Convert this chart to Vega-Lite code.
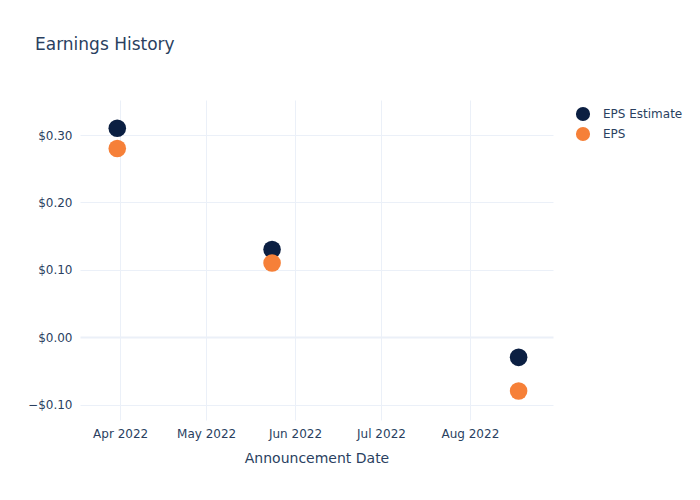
{
  "$schema": "https://vega.github.io/schema/vega-lite/v6.json",
  "autosize": {"type": "none"},
  "width": 473,
  "height": 320,
  "padding": {"left": 80, "top": 100, "right": 147, "bottom": 80},
  "background": "white",
  "title": {
    "text": "Earnings History",
    "anchor": "start",
    "frame": "group",
    "dx": -45,
    "offset": 46,
    "fontSize": 17,
    "font": "DejaVu Sans",
    "fontWeight": "normal",
    "color": "#2a3f5f"
  },
  "config": {
    "view": {"stroke": null},
    "font": "DejaVu Sans"
  },
  "data": {
    "values": [
      {"date": "2022-03-31", "series": "EPS Estimate", "value": 0.31},
      {"date": "2022-05-24", "series": "EPS Estimate", "value": 0.13},
      {"date": "2022-08-18", "series": "EPS Estimate", "value": -0.03},
      {"date": "2022-03-31", "series": "EPS", "value": 0.28},
      {"date": "2022-05-24", "series": "EPS", "value": 0.11},
      {"date": "2022-08-18", "series": "EPS", "value": -0.08}
    ]
  },
  "mark": {"type": "circle", "size": 310, "opacity": 1},
  "encoding": {
    "x": {
      "field": "date",
      "type": "temporal",
      "scale": {"domain": [{"year": 2022, "month": 3, "date": 18}, {"year": 2022, "month": 8, "date": 30}]},
      "axis": {
        "title": "Announcement Date",
        "format": "%b %Y",
        "tickCount": {"interval": "month", "step": 1},
        "domain": false,
        "ticks": false,
        "labelPadding": 8,
        "labelFontSize": 12,
        "labelColor": "#2a3f5f",
        "titleFontSize": 14,
        "titleFontWeight": "normal",
        "titleColor": "#2a3f5f",
        "titlePadding": 12,
        "gridColor": "#ebf0f8",
        "gridWidth": 1
      }
    },
    "y": {
      "field": "value",
      "type": "quantitative",
      "scale": {"domain": [-0.123, 0.352], "nice": false, "zero": false},
      "axis": {
        "title": null,
        "values": [-0.1, 0, 0.1, 0.2, 0.3],
        "format": "$.2f",
        "domain": false,
        "ticks": false,
        "labelPadding": 8,
        "labelFontSize": 12,
        "labelColor": "#2a3f5f",
        "gridColor": "#ebf0f8",
        "gridWidth": {"condition": {"test": "datum.value === 0", "value": 2}, "value": 1}
      }
    },
    "color": {
      "field": "series",
      "type": "nominal",
      "scale": {"domain": ["EPS Estimate", "EPS"], "range": ["#0b1f42", "#f68038"]},
      "legend": {
        "title": null,
        "orient": "none",
        "legendX": 495,
        "legendY": 6,
        "symbolType": "circle",
        "symbolSize": 200,
        "symbolOpacity": 1,
        "labelFontSize": 12,
        "labelColor": "#2a3f5f",
        "rowPadding": 4,
        "labelOffset": 12
      }
    },
    "order": {"field": "series", "sort": "descending"}
  }
}
